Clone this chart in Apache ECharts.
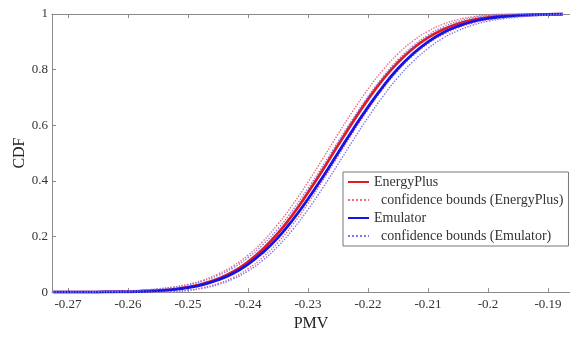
<!DOCTYPE html>
<html>
<head>
<meta charset="utf-8">
<script src="https://cdn.jsdelivr.net/npm/echarts@6/dist/echarts.min.js"></script>
<style>
  html, body { margin: 0; padding: 0; background: #fff; }
  #chart { width: 570px; height: 337px; }
</style>
</head>
<body>
<div id="chart"></div>
<script>
// PMV grid (x values) shared by every curve
const pmv = [-0.2725, -0.27, -0.2675, -0.265, -0.2625, -0.26, -0.2575, -0.255, -0.2525, -0.25,
  -0.2475, -0.245, -0.2425, -0.24, -0.2375, -0.235, -0.2325, -0.23, -0.2275, -0.225,
  -0.2225, -0.22, -0.2175, -0.215, -0.2125, -0.21, -0.2075, -0.205, -0.2025, -0.2,
  -0.1975, -0.195, -0.1925, -0.19, -0.1875];

const energyPlus = [0, 0, 0, 0, 0.001, 0.002, 0.003, 0.006, 0.010, 0.018,
  0.030, 0.048, 0.073, 0.109, 0.155, 0.212, 0.280, 0.358, 0.441, 0.528,
  0.613, 0.693, 0.765, 0.826, 0.876, 0.915, 0.944, 0.965, 0.979, 0.988,
  0.993, 0.996, 0.998, 0.999, 1];
const energyPlusLower = [0, 0, 0, 0, 0, 0, 0, 0, 0.002, 0.007,
  0.016, 0.031, 0.052, 0.084, 0.126, 0.179, 0.244, 0.319, 0.402, 0.488,
  0.574, 0.656, 0.731, 0.796, 0.850, 0.893, 0.926, 0.950, 0.967, 0.979,
  0.987, 0.991, 0.995, 0.997, 1];
const energyPlusUpper = [0, 0, 0, 0.002, 0.003, 0.005, 0.007, 0.012, 0.018, 0.028,
  0.043, 0.065, 0.094, 0.133, 0.183, 0.245, 0.316, 0.396, 0.481, 0.568,
  0.652, 0.730, 0.799, 0.857, 0.903, 0.938, 0.963, 0.980, 0.990, 0.997,
  1, 1, 1, 1, 1];

const emulator = [0, 0, 0, 0, 0.001, 0.001, 0.003, 0.005, 0.009, 0.016,
  0.027, 0.044, 0.067, 0.100, 0.143, 0.196, 0.261, 0.335, 0.415, 0.500,
  0.585, 0.665, 0.739, 0.804, 0.857, 0.900, 0.933, 0.956, 0.973, 0.984,
  0.991, 0.995, 0.997, 0.999, 1];
const emulatorLower = [0, 0, 0, 0, 0, 0, 0, 0, 0.002, 0.006,
  0.014, 0.027, 0.047, 0.076, 0.115, 0.165, 0.226, 0.297, 0.376, 0.460,
  0.545, 0.628, 0.704, 0.772, 0.829, 0.876, 0.913, 0.940, 0.960, 0.974,
  0.983, 0.989, 0.993, 0.996, 1];
const emulatorUpper = [0, 0, 0, 0.002, 0.003, 0.004, 0.007, 0.011, 0.017, 0.026,
  0.040, 0.060, 0.087, 0.124, 0.171, 0.228, 0.296, 0.373, 0.455, 0.540,
  0.624, 0.703, 0.774, 0.836, 0.885, 0.924, 0.953, 0.973, 0.986, 0.994,
  0.998, 1, 1, 1, 1];

const xTicks = [-0.27, -0.26, -0.25, -0.24, -0.23, -0.22, -0.21, -0.2, -0.19];

const pairs = (ys) => pmv.map((x, i) => [x, ys[i]]);

const font = '"Liberation Serif", "DejaVu Serif", serif';
const axisGray = "#8a8a8a";
const xMin = -0.27267;
const xMax = -0.18633;

const chart = echarts.init(document.getElementById("chart"), null, { renderer: "canvas" });

const solid = (name, color, ys) => ({
  name,
  type: "line",
  data: pairs(ys),
  symbol: "none",
  smooth: true,
  lineStyle: { color, width: 2.8 },
  itemStyle: { color },
});
const dotted = (name, color, ys) => ({
  name,
  type: "line",
  data: pairs(ys),
  symbol: "none",
  smooth: true,
  lineStyle: { color, width: 1.4, type: "dotted" },
  itemStyle: { color },
});

chart.setOption({
  backgroundColor: "#fff",
  animation: false,
  textStyle: { fontFamily: font },
  grid: { left: 52, top: 14, right: 0, bottom: 35 },
  legend: {
    orient: "vertical",
    left: 343,
    top: 172,
    padding: [3, 5, 3, 4],
    itemWidth: 21,
    itemHeight: 14,
    itemGap: 4,
    borderColor: "#777",
    borderWidth: 1,
    backgroundColor: "#fff",
    itemStyle: { opacity: 0 },
    textStyle: { fontFamily: font, fontSize: 14, color: "#333" },
    data: [
      "EnergyPlus",
      "  confidence bounds (EnergyPlus)",
      "Emulator",
      "  confidence bounds (Emulator)",
    ],
  },
  xAxis: [
    {
      type: "value",
      min: xMin,
      max: xMax,
      name: "PMV",
      nameLocation: "middle",
      nameGap: 19,
      nameTextStyle: { fontFamily: font, fontSize: 16, color: "#222" },
      axisLine: { lineStyle: { color: axisGray, width: 1 } },
      axisTick: { inside: true, length: 4, customValues: xTicks, lineStyle: { color: axisGray } },
      axisLabel: {
        customValues: xTicks,
        margin: 6,
        fontFamily: font,
        fontSize: 13,
        color: "#333",
      },
      splitLine: { show: false },
    },
    {
      type: "value",
      position: "top",
      min: xMin,
      max: xMax,
      axisLine: { lineStyle: { color: axisGray, width: 1 } },
      axisTick: { inside: true, length: 4, customValues: xTicks, lineStyle: { color: axisGray } },
      axisLabel: { show: false },
      splitLine: { show: false },
    },
  ],
  yAxis: {
    type: "value",
    min: 0,
    max: 1,
    interval: 0.2,
    name: "CDF",
    nameLocation: "middle",
    nameGap: 24,
    nameMoveOverlap: false,
    nameTextStyle: { fontFamily: font, fontSize: 16, color: "#222" },
    axisLine: { show: true, lineStyle: { color: axisGray, width: 1 } },
    axisTick: { show: true, inside: true, length: 4, lineStyle: { color: axisGray } },
    axisLabel: { margin: 4, fontFamily: font, fontSize: 13, color: "#333" },
    splitLine: { show: false },
  },
  series: [
    solid("EnergyPlus", "#e01b24", energyPlus),
    dotted("  confidence bounds (EnergyPlus)", "#ec6a7a", energyPlusLower),
    dotted("  confidence bounds (EnergyPlus)", "#ec6a7a", energyPlusUpper),
    solid("Emulator", "#1414e6", emulator),
    dotted("  confidence bounds (Emulator)", "#7a78f0", emulatorLower),
    dotted("  confidence bounds (Emulator)", "#7a78f0", emulatorUpper),
  ],
});
</script>
</body>
</html>
